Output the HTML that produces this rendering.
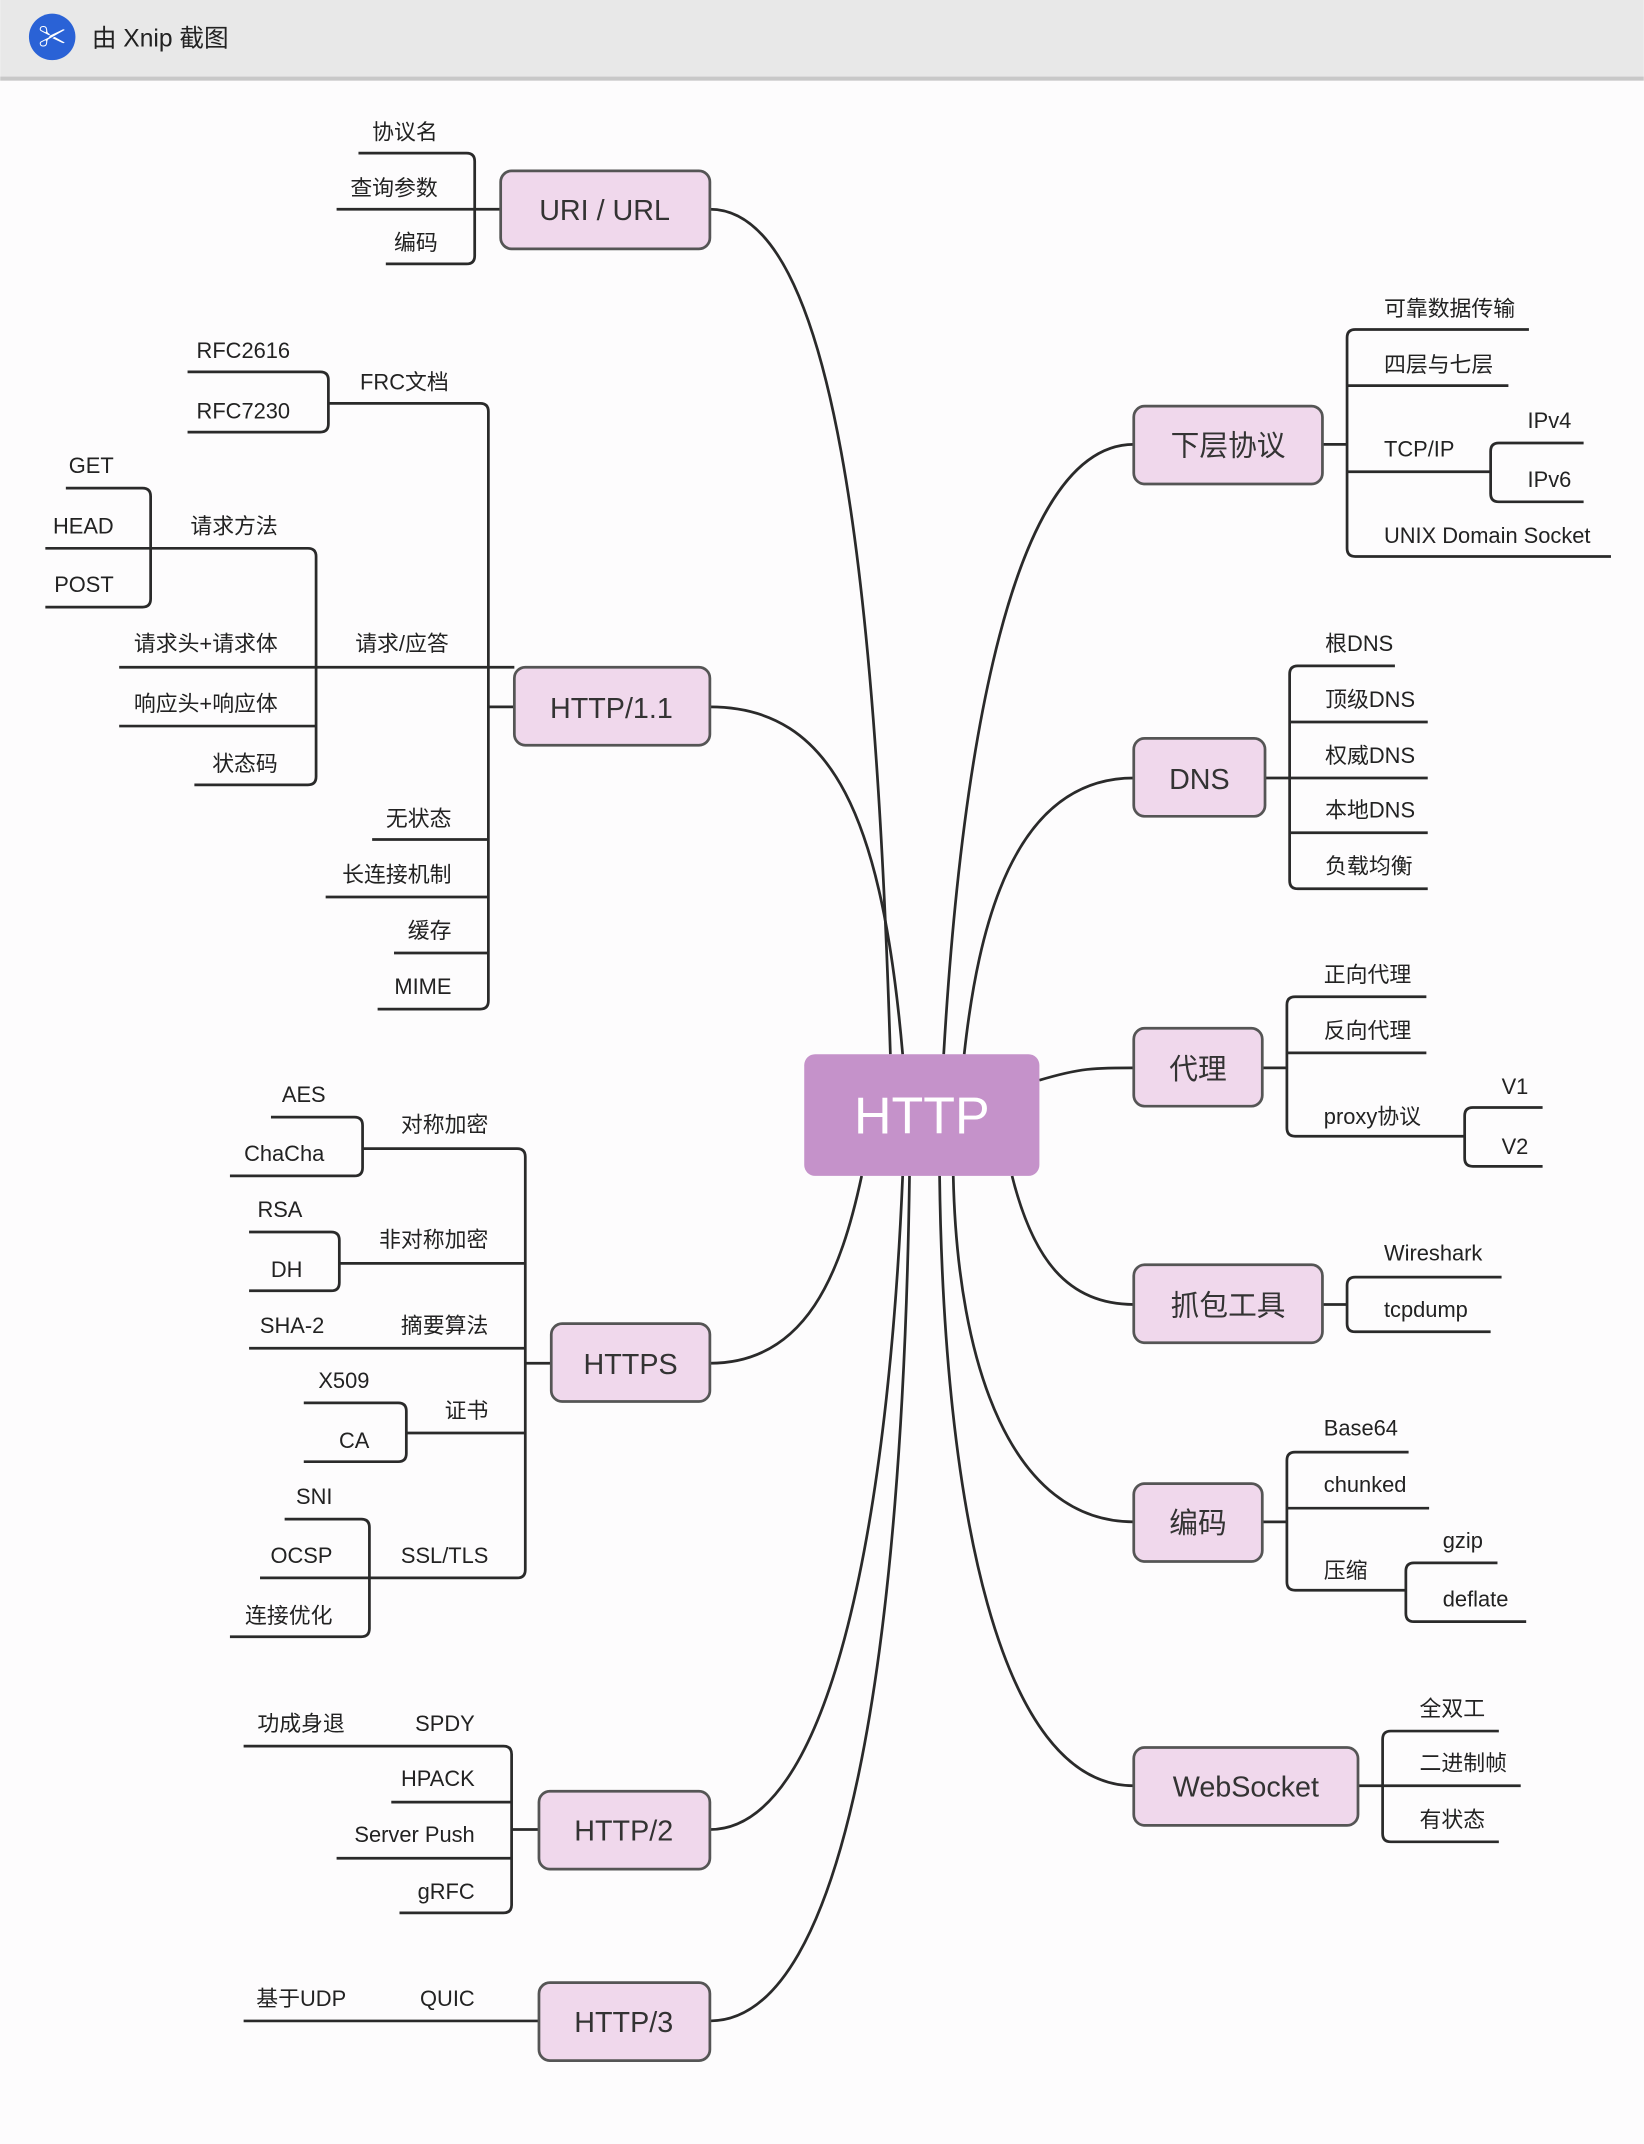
<!DOCTYPE html>
<html><head><meta charset="utf-8"><style>
html,body{margin:0;padding:0;background:#fdfcfd;}
svg{display:block}
text{font-family:"Liberation Sans","Noto Sans CJK SC",sans-serif;fill:#222;}
.l{font-size:16px;text-anchor:end}
.r{font-size:16px;text-anchor:start}
.n{font-size:21px;text-anchor:middle;fill:#333}
path,line{stroke:#2a2a2a;stroke-width:2;fill:none}
.nd{fill:#f0d8ec;stroke:#555;stroke-width:2}
</style></head><body>
<svg width="1644" height="2144" viewBox="0 0 1202 1568" xmlns="http://www.w3.org/2000/svg">
<rect x="0" y="0" width="1202" height="1568" fill="#fdfcfd"/>
<rect x="0" y="0" width="1202" height="56" fill="#e8e8e8"/>
<rect x="0" y="56" width="1202" height="3" fill="#c8c8c8"/>
<circle cx="38" cy="27" r="17" fill="#2a62d6"/>
<text x="38" y="34" style="font-size:20px;fill:#fff;text-anchor:middle;font-weight:bold">✂</text>
<text x="67" y="34" style="font-size:18px;fill:#222">由 Xnip 截图</text>

<!-- main curves -->
<path d="M519,153 C610,153 640,420 651,771"/>
<path d="M519,517 C610,517 645,600 660,771"/>
<path d="M519,997 C590,997 615,930 630,860"/>
<path d="M519,1338 C610,1338 650,1100 660,860"/>
<path d="M519,1478 C620,1478 660,1200 665,860"/>
<path d="M829,325 C730,325 700,600 690,771"/>
<path d="M829,569 C740,569 715,680 705,771"/>
<path d="M760,790 C790,781 800,781 829,781"/>
<path d="M829,954 C780,954 755,920 740,860"/>
<path d="M829,1113 C740,1113 700,1000 697,860"/>
<path d="M829,1306 C730,1306 690,1100 687,860"/>

<!-- URI/URL -->
<path d="M262,112 H341 Q347,112 347,118 V187 Q347,193 341,193 H282"/>
<line x1="246" y1="153" x2="366" y2="153"/>
<rect class="nd" x="366" y="125" width="153" height="57" rx="8"/>
<text class="n" x="442" y="161">URI /  URL</text>
<text class="l" x="320" y="102">协议名</text>
<text class="l" x="320" y="143">查询参数</text>
<text class="l" x="320" y="183">编码</text>

<!-- HTTP/1.1 -->
<path d="M240,295 H351 Q357,295 357,301 V732 Q357,738 351,738 H276"/>
<line x1="231" y1="488" x2="376" y2="488"/>
<line x1="357" y1="517" x2="376" y2="517"/>
<line x1="272" y1="614" x2="357" y2="614"/>
<line x1="238" y1="656" x2="357" y2="656"/>
<line x1="288" y1="697" x2="357" y2="697"/>
<path d="M137,272 H234 Q240,272 240,278 V310 Q240,316 234,316 H137"/>
<path d="M110,401 H225 Q231,401 231,407 V568 Q231,574 225,574 H142"/>
<line x1="87" y1="531" x2="231" y2="531"/>
<line x1="87" y1="488" x2="231" y2="488"/>
<path d="M48,357 H104 Q110,357 110,363 V438 Q110,444 104,444 H33"/>
<line x1="33" y1="401" x2="110" y2="401"/>
<rect class="nd" x="376" y="488" width="143" height="57" rx="8"/>
<text class="n" x="447" y="525">HTTP/1.1</text>
<text class="l" x="328" y="285">FRC文档</text>
<text class="l" x="212" y="262">RFC2616</text>
<text class="l" x="212" y="306">RFC7230</text>
<text class="l" x="328" y="476">请求/应答</text>
<text class="l" x="203" y="390">请求方法</text>
<text class="l" x="203" y="476">请求头+请求体</text>
<text class="l" x="203" y="520">响应头+响应体</text>
<text class="l" x="203" y="564">状态码</text>
<text class="l" x="83" y="346">GET</text>
<text class="l" x="83" y="390">HEAD</text>
<text class="l" x="83" y="433">POST</text>
<text class="l" x="330" y="604">无状态</text>
<text class="l" x="330" y="645">长连接机制</text>
<text class="l" x="330" y="686">缓存</text>
<text class="l" x="330" y="727">MIME</text>

<!-- HTTPS -->
<path d="M265,840 H378 Q384,840 384,846 V1148 Q384,1154 378,1154 H270"/>
<line x1="248" y1="924" x2="384" y2="924"/>
<line x1="182" y1="986" x2="384" y2="986"/>
<line x1="297" y1="1048" x2="384" y2="1048"/>
<line x1="384" y1="997" x2="403" y2="997"/>
<path d="M198,817 H259 Q265,817 265,823 V854 Q265,860 259,860 H168"/>
<path d="M182,901 H242 Q248,901 248,907 V938 Q248,944 242,944 H182"/>
<path d="M222,1026 H291 Q297,1026 297,1032 V1063 Q297,1069 291,1069 H222"/>
<path d="M208,1111 H264 Q270,1111 270,1117 V1191 Q270,1197 264,1197 H168"/>
<line x1="190" y1="1154" x2="270" y2="1154"/>
<rect class="nd" x="403" y="968" width="116" height="57" rx="8"/>
<text class="n" x="461" y="1005">HTTPS</text>
<text class="l" x="357" y="828">对称加密</text>
<text class="l" x="238" y="806">AES</text>
<text class="l" x="237" y="849">ChaCha</text>
<text class="l" x="357" y="912">非对称加密</text>
<text class="l" x="221" y="890">RSA</text>
<text class="l" x="221" y="934">DH</text>
<text class="l" x="357" y="975">摘要算法</text>
<text class="l" x="237" y="975">SHA-2</text>
<text class="l" x="357" y="1037">证书</text>
<text class="l" x="270" y="1015">X509</text>
<text class="l" x="270" y="1059">CA</text>
<text class="l" x="357" y="1143">SSL/TLS</text>
<text class="l" x="243" y="1100">SNI</text>
<text class="l" x="243" y="1143">OCSP</text>
<text class="l" x="243" y="1187">连接优化</text>

<!-- HTTP/2 -->
<path d="M178,1277 H368 Q374,1277 374,1283 V1393 Q374,1399 368,1399 H292"/>
<line x1="286" y1="1318" x2="374" y2="1318"/>
<line x1="246" y1="1359" x2="374" y2="1359"/>
<line x1="374" y1="1338" x2="394" y2="1338"/>
<rect class="nd" x="394" y="1310" width="125" height="57" rx="8"/>
<text class="n" x="456" y="1346">HTTP/2</text>
<text class="l" x="347" y="1266">SPDY</text>
<text class="l" x="252" y="1266">功成身退</text>
<text class="l" x="347" y="1306">HPACK</text>
<text class="l" x="347" y="1347">Server Push</text>
<text class="l" x="347" y="1389">gRFC</text>

<!-- HTTP/3 -->
<line x1="178" y1="1478" x2="394" y2="1478"/>
<rect class="nd" x="394" y="1450" width="125" height="57" rx="8"/>
<text class="n" x="456" y="1486">HTTP/3</text>
<text class="l" x="347" y="1467">QUIC</text>
<text class="l" x="253" y="1467">基于UDP</text>

<!-- center -->
<rect x="588" y="771" width="172" height="89" rx="8" fill="#c592ca"/>
<text x="674" y="829" style="font-size:38px;fill:#fff;text-anchor:middle">HTTP</text>

<!-- 下层协议 -->
<path d="M1118,241 H991 Q985,241 985,247 V401 Q985,407 991,407 H1178"/>
<line x1="985" y1="282" x2="1103" y2="282"/>
<line x1="985" y1="345" x2="1090" y2="345"/>
<line x1="967" y1="325" x2="985" y2="325"/>
<path d="M1158,324 H1096 Q1090,324 1090,330 V361 Q1090,367 1096,367 H1158"/>
<rect class="nd" x="829" y="297" width="138" height="57" rx="8"/>
<text class="n" x="898" y="333">下层协议</text>
<text class="r" x="1012" y="231">可靠数据传输</text>
<text class="r" x="1012" y="272">四层与七层</text>
<text class="r" x="1012" y="334">TCP/IP</text>
<text class="r" x="1117" y="313">IPv4</text>
<text class="r" x="1117" y="356">IPv6</text>
<text class="r" x="1012" y="397">UNIX Domain Socket</text>

<!-- DNS -->
<path d="M1020,487 H949 Q943,487 943,493 V644 Q943,650 949,650 H1044"/>
<line x1="943" y1="528" x2="1044" y2="528"/>
<line x1="943" y1="569" x2="1044" y2="569"/>
<line x1="943" y1="609" x2="1044" y2="609"/>
<line x1="925" y1="569" x2="943" y2="569"/>
<rect class="nd" x="829" y="540" width="96" height="57" rx="8"/>
<text class="n" x="877" y="577">DNS</text>
<text class="r" x="969" y="476">根DNS</text>
<text class="r" x="969" y="517">顶级DNS</text>
<text class="r" x="969" y="558">权威DNS</text>
<text class="r" x="969" y="598">本地DNS</text>
<text class="r" x="969" y="639">负载均衡</text>

<!-- 代理 -->
<path d="M1043,729 H947 Q941,729 941,735 V825 Q941,831 947,831 H1071"/>
<line x1="941" y1="770" x2="1043" y2="770"/>
<line x1="923" y1="781" x2="941" y2="781"/>
<path d="M1128,810 H1077 Q1071,810 1071,816 V847 Q1071,853 1077,853 H1128"/>
<rect class="nd" x="829" y="752" width="94" height="57" rx="8"/>
<text class="n" x="876" y="789">代理</text>
<text class="r" x="968" y="718">正向代理</text>
<text class="r" x="968" y="759">反向代理</text>
<text class="r" x="968" y="822">proxy协议</text>
<text class="r" x="1098" y="800">V1</text>
<text class="r" x="1098" y="844">V2</text>

<!-- 抓包工具 -->
<path d="M1098,934 H991 Q985,934 985,940 V968 Q985,974 991,974 H1090"/>
<line x1="967" y1="954" x2="985" y2="954"/>
<rect class="nd" x="829" y="925" width="138" height="57" rx="8"/>
<text class="n" x="898" y="962">抓包工具</text>
<text class="r" x="1012" y="922">Wireshark</text>
<text class="r" x="1012" y="963">tcpdump</text>

<!-- 编码 -->
<path d="M1030,1062 H947 Q941,1062 941,1068 V1157 Q941,1163 947,1163 H1028"/>
<line x1="941" y1="1103" x2="1045" y2="1103"/>
<line x1="923" y1="1113" x2="941" y2="1113"/>
<path d="M1095,1143 H1034 Q1028,1143 1028,1149 V1180 Q1028,1186 1034,1186 H1116"/>
<rect class="nd" x="829" y="1085" width="94" height="57" rx="8"/>
<text class="n" x="876" y="1121">编码</text>
<text class="r" x="968" y="1050">Base64</text>
<text class="r" x="968" y="1091">chunked</text>
<text class="r" x="968" y="1154">压缩</text>
<text class="r" x="1055" y="1132">gzip</text>
<text class="r" x="1055" y="1175">deflate</text>

<!-- WebSocket -->
<path d="M1096,1266 H1017 Q1011,1266 1011,1272 V1341 Q1011,1347 1017,1347 H1096"/>
<line x1="1011" y1="1306" x2="1112" y2="1306"/>
<line x1="993" y1="1306" x2="1011" y2="1306"/>
<rect class="nd" x="829" y="1278" width="164" height="57" rx="8"/>
<text class="n" x="911" y="1314">WebSocket</text>
<text class="r" x="1038" y="1255">全双工</text>
<text class="r" x="1038" y="1295">二进制帧</text>
<text class="r" x="1038" y="1336">有状态</text>
</svg>
</body></html>
